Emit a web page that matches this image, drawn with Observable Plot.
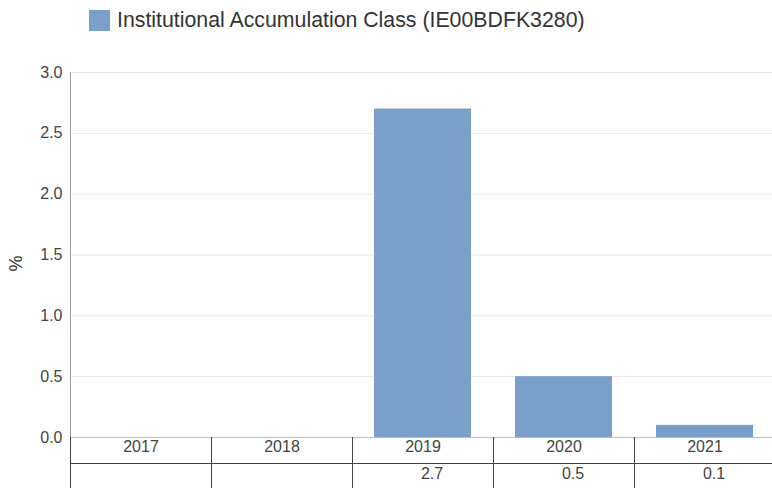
<!DOCTYPE html>
<html>
<head>
<meta charset="utf-8">
<script src="https://cdn.jsdelivr.net/npm/d3@7"></script>
<script src="https://cdn.jsdelivr.net/npm/@observablehq/plot@0.6"></script>
<style>
  html, body { margin: 0; padding: 0; background: #fff; }
  body { width: 772px; height: 488px; overflow: hidden; font-family: "Liberation Sans", Arial, sans-serif; }
  #legend { height: 50px; position: relative; }
  #legend .sw { position: absolute; left: 89px; top: 10px; width: 21px; height: 21px; background: #7b9fcb; }
  #legend .lb { position: absolute; left: 117px; top: 7px; font-size: 21.3px; color: #333; line-height: 26px; white-space: nowrap; }
  #chart { width: 772px; overflow: hidden; }
  svg { display: block; max-width: none !important; }
</style>
</head>
<body>
<div id="legend"><div class="sw"></div><div class="lb"></div></div>
<div id="chart"></div>
<script>
const seriesName = "Institutional Accumulation Class (IE00BDFK3280)";
const years = ["2017", "2018", "2019", "2020", "2021"];
const values = [null, null, 2.7, 0.5, 0.1];
const yTicks = [0, 0.5, 1.0, 1.5, 2.0, 2.5, 3.0];
const yLabel = "%";
const barColor = "#7b9fcb";

document.querySelector("#legend .lb").textContent = seriesName;

const data = years.map((y, i) => ({year: y, value: values[i]}));
const barData = data.filter(d => d.value != null);

const W = 775, H = 438, mTop = 22, mBottom = 51, mLeft = 70, mRight = 0;

const plot = Plot.plot({
  width: W, height: H,
  marginTop: mTop, marginBottom: mBottom, marginLeft: mLeft, marginRight: mRight,
  style: {fontFamily: "'Liberation Sans', Arial, sans-serif", background: "#fff", overflow: "visible", maxWidth: "none"},
  x: {domain: years, type: "band", paddingInner: 0.312, paddingOuter: 0.156, axis: null},
  y: {domain: [0, 3], axis: null},
  marks: [
    Plot.gridY(yTicks.filter(t => t > 0), {stroke: "#e6e6e6", strokeOpacity: 1}),
    Plot.axisY(yTicks, {tickSize: 0, tickPadding: 8, tickFormat: d3.format(".1f"), fontSize: 16, fill: "#444", label: null}),
    Plot.barY(barData, {x: "year", y: "value", fill: barColor}),
    Plot.ruleY([0], {stroke: "#bbb"}),
    Plot.text(data, {x: "year", text: "year", frameAnchor: "bottom", dy: 14, fontSize: 16, fill: "#444"}),
    Plot.text(data, {x: "year", text: d => d.value == null ? "" : d3.format(".1f")(d.value), frameAnchor: "bottom", dy: 41, dx: 9, fontSize: 16, fill: "#444"})
  ]
});

document.getElementById("chart").appendChild(plot);

// axis line and table grid using the plot's own scales
const xs = plot.scale("x");
const ys = plot.scale("y");
const svgSel = d3.select(plot);
const yBottom = ys.apply(0);
const yTop = ys.apply(3);
const xLeft = xs.range[0];
const g = svgSel.append("g").attr("shape-rendering", "crispEdges");
g.append("line").attr("x1", xLeft + 0.5).attr("x2", xLeft + 0.5).attr("y1", yTop).attr("y2", yBottom).attr("stroke", "#999");
g.append("line").attr("x1", xLeft).attr("x2", xs.range[1]).attr("y1", yBottom + 26.5).attr("y2", yBottom + 26.5).attr("stroke", "#444");
years.forEach(y => {
  const x0 = Math.round(xs.apply(y) - (xs.step - xs.bandwidth) / 2) + 0.5;
  g.append("line").attr("x1", x0).attr("x2", x0).attr("y1", yBottom).attr("y2", H).attr("stroke", "#444");
});
svgSel.append("text")
  .attr("transform", `translate(17,${(yTop + yBottom) / 2 + 9}) rotate(-90)`)
  .attr("text-anchor", "middle")
  .attr("dominant-baseline", "middle")
  .attr("font-size", 18)
  .attr("fill", "#333")
  .text(yLabel);
</script>
</body>
</html>
